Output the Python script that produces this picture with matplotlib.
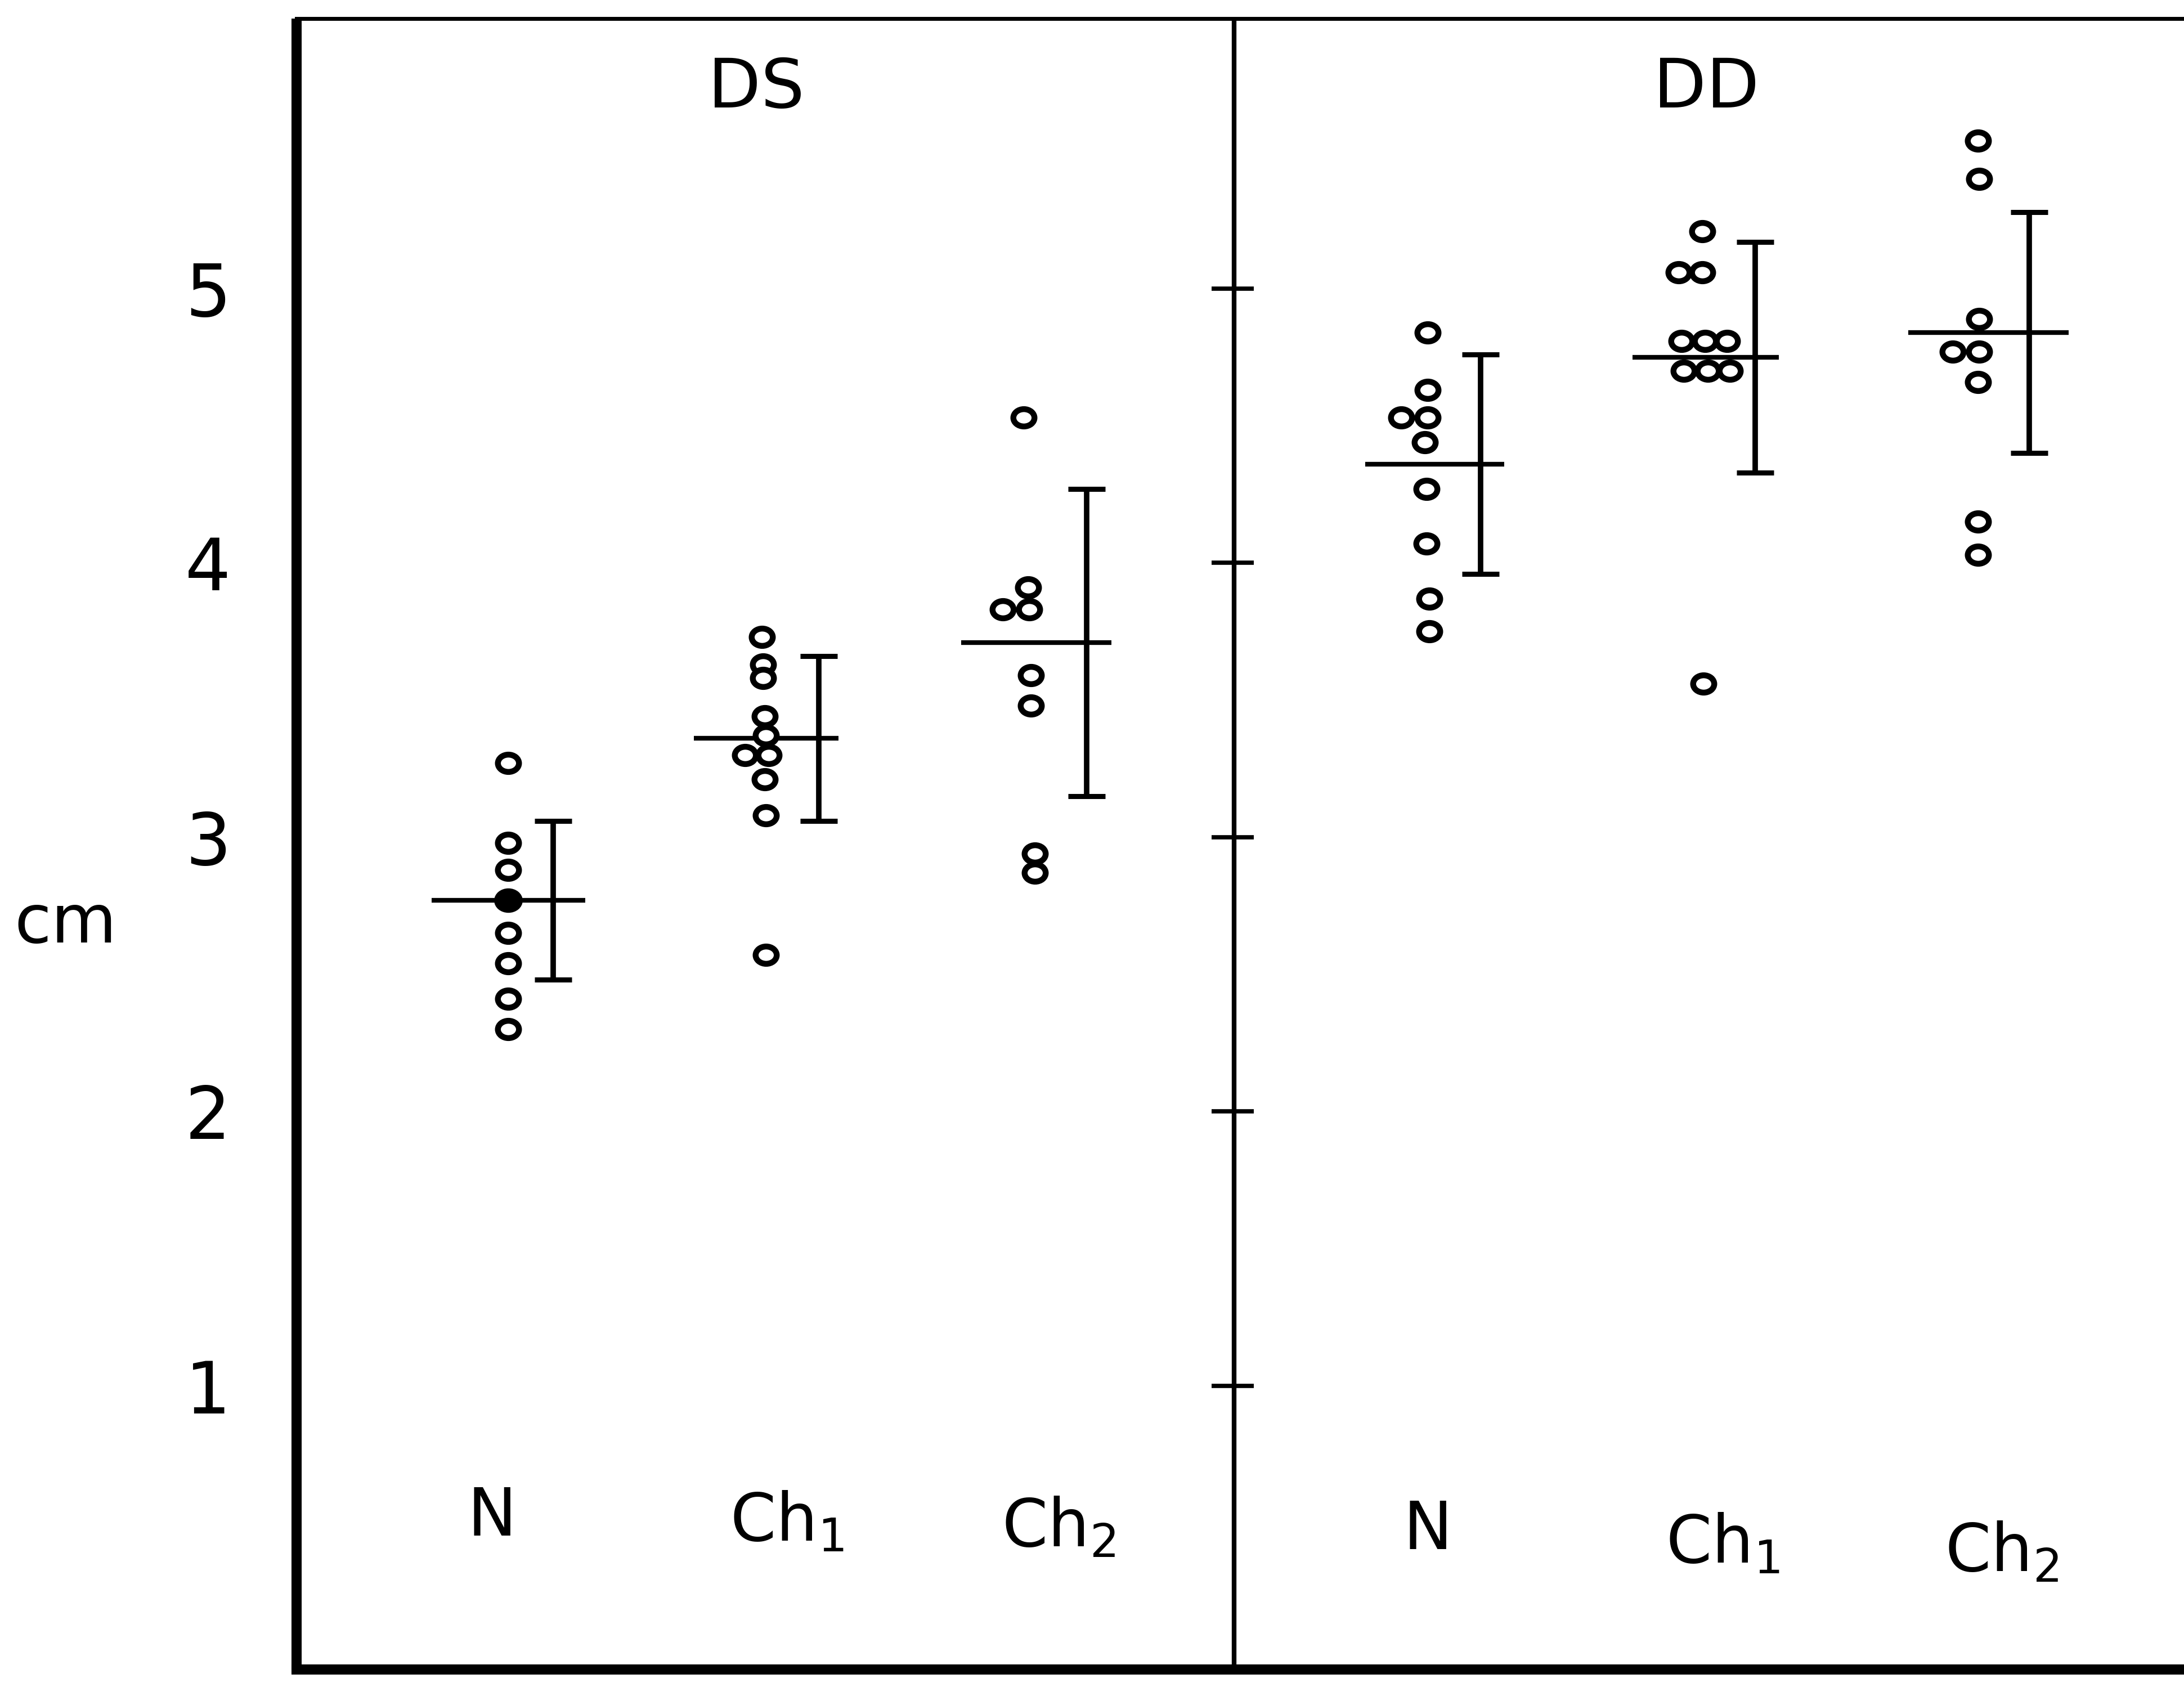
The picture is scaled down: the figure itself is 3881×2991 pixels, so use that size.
import matplotlib.pyplot as plt
from matplotlib.path import Path

# Scatter of individual values (cm) with mean +- spread, two panels DS / DD
panel_names = ['DS', 'DD']
group_labels = ['N', 'Ch$_1$', 'Ch$_2$', 'N', 'Ch$_1$', 'Ch$_2$']

ds_n = [3.27, 2.98, 2.88, 2.77, 2.65, 2.54, 2.41, 2.30]
ds_ch1 = [3.73, 3.63, 3.58, 3.44, 3.37, 3.30, 3.30, 3.21, 3.08, 2.57]
ds_ch2 = [4.53, 3.91, 3.83, 3.83, 3.59, 3.48, 2.94, 2.87]
dd_n = [4.84, 4.63, 4.53, 4.53, 4.44, 4.27, 4.07, 3.87, 3.75]
dd_ch1 = [5.21, 5.06, 5.06, 4.81, 4.81, 4.81, 4.70, 4.70, 4.70, 3.56]
dd_ch2 = [5.54, 5.40, 4.89, 4.77, 4.77, 4.66, 4.15, 4.03]

group_means = [2.77, 3.36, 3.71, 4.36, 4.75, 4.84]
group_spread = [0.29, 0.30, 0.56, 0.40, 0.42, 0.44]

y_ticks = [1, 2, 3, 4, 5]

# --- layout (in screen px of a 1568 wide copy, 194 px per x unit) ---
PX = 194.0
group_x = [(x - 210) / PX for x in (365, 547, 738, 1025, 1222, 1420)]
bar_dx = [d / PX for d in (32, 41, 42, 38, 38, 37)]
mean_left = [d / PX for d in (55, 49, 48, 45, 50, 50)]
mean_right = [d / PX for d in (55, 55, 60, 55, 55, 65)]
# small sideways nudges so touching circles stay visible
jitter = [
    [0, 0, 0, 0, 0, 0, 0, 0],
    [0, 1, 1, 2, 3, -12, 5, 2, 3, 3],
    [-3, 0, -18, 1, 2, 2, 5, 5],
    [0, 0, -19, 0, -2, -1, -1, 1, 1],
    [0, -17, 0, -15, 2, 18, -13, 4, 20, 1],
    [0, 1, 1, -18, 1, 0, 0, 0],
]
divider_x = (886 - 210) / PX
label_x = [(x - 210) / PX for x in (353, 565, 760, 1025, 1237, 1437)]
label_y = [0.52, 0.50, 0.48, 0.47, 0.42, 0.39]
title_x = [(543 - 210) / PX, (1225 - 210) / PX]


def oval_marker(ratio=0.82):
    '''Slightly flattened open circle, like the hand-drawn rings.'''
    circ = Path.unit_circle()
    verts = circ.vertices.copy()
    verts[:, 1] *= ratio
    return Path(verts, circ.codes)


def main():
    groups = [ds_n, ds_ch1, ds_ch2, dd_n, dd_ch1, dd_ch2]
    ring = oval_marker()

    fig = plt.figure(figsize=(38.81, 29.91), dpi=100)
    ax = fig.add_axes([0.1358, 0.008, 1 - 0.1358, 0.981])
    ax.set_xlim((212.9 - 210) / PX, (1568 - 210) / PX)
    ax.set_ylim(-0.035, 5.985)

    for i, vals in enumerate(groups):
        xs = [group_x[i] + j / PX for j in jitter[i]]
        ax.plot(xs, vals, linestyle='none', marker=ring, ms=27,
                mfc='white', mec='black', mew=7.5, zorder=3)
        ax.errorbar(group_x[i] + bar_dx[i], group_means[i], yerr=group_spread[i],
                    fmt='none', ecolor='black', elinewidth=7, capsize=24,
                    capthick=6.5, zorder=2)
        ax.hlines(group_means[i], group_x[i] - mean_left[i], group_x[i] + mean_right[i],
                  color='black', lw=6, zorder=2)
        ax.text(label_x[i], label_y[i], group_labels[i], fontsize=84,
                ha='center', va='center')

    # the one ring sitting on the N mean line is filled in the original
    ax.plot(group_x[0], ds_n[3], linestyle='none', marker=ring, ms=29,
            mfc='black', mec='black', mew=7.5, zorder=4)

    # panel divider with its own little ticks
    ax.axvline(divider_x, color='black', lw=6)
    ax.hlines(y_ticks, divider_x - 16 / PX, divider_x + 14 / PX, color='black', lw=5.5)

    for name, tx in zip(panel_names, title_x):
        ax.text(tx, 5.73, name, fontsize=88, ha='center', va='center')

    ax.set_yticks(y_ticks)
    ax.set_yticklabels([str(t) for t in y_ticks])
    ax.set_xticks([])
    ax.tick_params(axis='y', length=0, pad=84, labelsize=92)

    ax.spines['right'].set_visible(False)
    ax.spines['left'].set_linewidth(13)
    ax.spines['left'].set_capstyle('butt')
    ax.spines['bottom'].set_linewidth(13)
    ax.spines['top'].set_linewidth(5)

    fig.text(0.030, 0.451, 'cm', fontsize=86, ha='center', va='center')

    fig.savefig('out.png', dpi=100, facecolor='white')


if __name__ == '__main__':
    main()
